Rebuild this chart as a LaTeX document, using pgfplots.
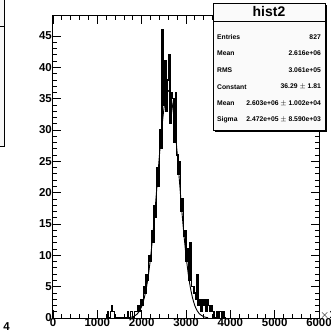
\documentclass[border=0pt]{standalone}
\usepackage{fontspec}
\setmainfont{Liberation Sans}
\usepackage{pgfplots}
\usepackage{pgfplotstable}
\pgfplotsset{compat=1.18}

% hist2: bin left edge (x 10^3) and entries, bin width 30
\pgfplotstableread{
x    n
1200 0
1230 1
1260 0
1290 1
1320 2
1350 1
1380 0
1410 0
1440 0
1470 0
1500 0
1530 0
1560 0
1590 0
1620 0
1650 0
1680 1
1710 0
1740 1
1770 1
1800 0
1830 1
1860 1
1890 1
1920 2
1950 1
1980 3
2010 2
2040 5
2070 4
2100 7
2130 6
2160 10
2190 9
2220 14
2250 12
2280 18
2310 16
2340 24
2370 21
2400 30
2430 27
2460 46
2490 34
2520 41
2550 33
2580 38
2610 42
2640 31
2670 36
2700 35
2730 28
2760 36
2790 26
2820 23
2850 25
2880 17
2910 19
2940 13
2970 14
3000 9
3030 11
3060 6
3090 12
3120 5
3150 5
3180 4
3210 3
3240 7
3270 2
3300 3
3330 1
3360 3
3390 2
3420 3
3450 1
3480 3
3510 2
3540 1
3570 2
3600 1
3630 0
3660 0
3690 1
3720 0
3750 1
3780 1
3810 0
3840 1
3870 0
3900 0
}\histdata

% gaus fit: Constant 36.29, Mean 2603, Sigma 247.2
\pgfplotstableread{
x    y
1700 0.05
1800 0.19
1900 0.64
1950 1.11
2000 1.85
2050 2.97
2100 4.58
2150 6.77
2200 9.61
2250 13.09
2300 17.12
2350 21.49
2400 25.90
2450 29.96
2500 33.27
2550 35.47
2603 36.29
2650 35.64
2700 33.60
2750 30.41
2800 26.42
2850 22.03
2900 17.63
2950 13.55
3000 9.99
3050 7.08
3100 4.81
3150 3.14
3200 1.96
3250 1.18
3300 0.68
3400 0.20
3500 0.05
}\fitdata

\begin{document}
\begin{tikzpicture}[x=1bp,y=1bp]
\useasboundingbox (0,0) rectangle (331,334);
\clip (0,0) rectangle (331,334);

% edge of the neighbouring pad
\draw[line width=1bp, fill=gray!6] (-20,336) rectangle (4,187);
\draw[line width=0.8bp] (-20,308) -- (4,308);
\node[anchor=east, inner sep=0, font=\bfseries\fontsize{11.5}{12}\selectfont] at (10,7) {4};

\begin{axis}[
  at={(53bp,16bp)}, anchor=south west,
  width=266bp, height=302bp, scale only axis,
  xmin=0, xmax=6000, ymin=0, ymax=48.2,
  axis line style={line width=1bp},
  tick align=inside,
  xtick={0,1000,...,6000}, ytick={0,5,...,45},
  minor x tick num=4, minor y tick num=4,
  major tick length=8bp, minor tick length=4bp,
  every tick/.style={black, line width=0.8bp},
  tick label style={font=\bfseries\fontsize{11.5}{12}\selectfont},
  /pgf/number format/assume math mode=true,
  /pgf/number format/set thousands separator={},
  xticklabel style={inner sep=1pt, yshift=1pt},
  yticklabel style={inner sep=1pt},
  scaled x ticks=false,
  clip=false,
]
\addplot[const plot, black, line width=1.25bp] table[x=x, y=n] {\histdata};
\addplot[black, line width=0.9bp, smooth] table[x=x, y=y] {\fitdata};
\end{axis}

\node[anchor=west, inner sep=0, font=\bfseries\fontsize{11.5}{12}\selectfont] at (320,19) {$\times$10};

% statistics box
\fill[black] (215,329) rectangle (327,202);
\draw[line width=0.8bp, fill=gray!4] (213,331) rectangle (325,204);
\draw[line width=0.8bp] (213,313) -- (325,313);
\node[font=\bfseries\fontsize{14}{14}\selectfont, inner sep=0] at (269,322) {hist2};
\begin{scope}[every node/.style={inner sep=0, font=\bfseries\fontsize{6.8}{7}\selectfont}]
\node[anchor=west] at (217,297) {Entries};   \node[anchor=east] at (321,297) {827};
\node[anchor=west] at (217,280.4) {Mean};    \node[anchor=east] at (321,280.4) {2.616e+06};
\node[anchor=west] at (217,263.8) {RMS};     \node[anchor=east] at (321,263.8) {3.061e+05};
\node[anchor=west] at (217,247.2) {Constant};\node[anchor=east] at (321,247.2) {36.29 $\pm$ 1.81};
\node[anchor=west] at (217,230.6) {Mean};    \node[anchor=east] at (321,230.6) {2.603e+06 $\pm$ 1.002e+04};
\node[anchor=west] at (217,214) {Sigma};     \node[anchor=east] at (321,214) {2.472e+05 $\pm$ 8.590e+03};
\end{scope}
\end{tikzpicture}
\end{document}
